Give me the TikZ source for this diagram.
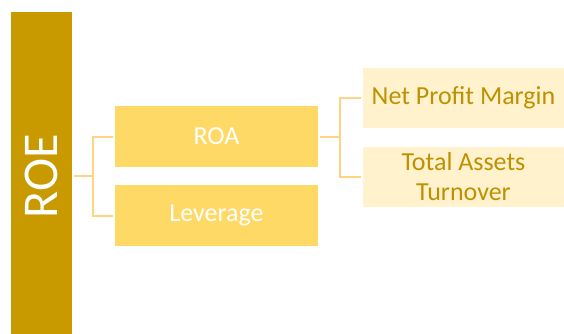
\documentclass[tikz,border=0pt]{standalone}
\usepackage{fontspec}
\setmainfont{Carlito}
\usepackage{tikz}
\usetikzlibrary{calc}

\definecolor{roegold}{HTML}{C99A00}
\definecolor{midgold}{HTML}{FFD966}
\definecolor{palegold}{HTML}{FFF2CC}
\definecolor{textgold}{HTML}{BF9000}
\definecolor{linkgold}{HTML}{FFD583}

\tikzset{
	bar/.style={fill=roegold, inner sep=0pt, minimum width=61pt, minimum height=328pt},
	midbox/.style={fill=midgold, text=white, inner sep=0pt, minimum width=203pt, minimum height=61pt, font=\fontsize{26}{30}\selectfont},
	palebox/.style={fill=palegold, text=textgold, inner sep=0pt, minimum width=201pt, minimum height=60pt, align=center, font=\fontsize{26}{30}\selectfont},
	link/.style={draw=linkgold, line width=2pt, shorten <=2pt, shorten >=2pt}
}

\begin{document}
\begin{tikzpicture}[x=1pt, y=-1pt]
				\clip (0,0) rectangle (564,334);
				
				\node[bar, label={[rotate=90, text=white, font=\fontsize{50}{60}\selectfont]center:ROE}] (roe) at (41.5,176) {};
				
				\node[midbox] (roa) at (216.5,136.5) {ROA};
				\node[midbox] (lev) at (216.5,215.5) {Leverage};
				
				\node[palebox] (npm) at (463.5,98) {Net Profit Margin};
				\node[palebox] (tat) at (463.5,176.5) {Total Assets\\Turnover};
				
				\coordinate (j1) at ($(roe.east)+(21,0)$);
				\coordinate (j2) at ($(roa.east)+(22,0)$);
				
				\draw[link, shorten >=0pt] (roe.east) -- (j1);
				\draw[link, shorten <=0pt] (j1) |- (roa.west);
				\draw[link, shorten <=0pt] (j1) |- (lev.west);
				
				\draw[link, shorten >=0pt] (roa.east) -- (j2);
				\draw[link, shorten <=0pt] (j2) |- (npm.west);
				\draw[link, shorten <=0pt] (j2) |- (tat.west);
			\end{tikzpicture}
\end{document}
